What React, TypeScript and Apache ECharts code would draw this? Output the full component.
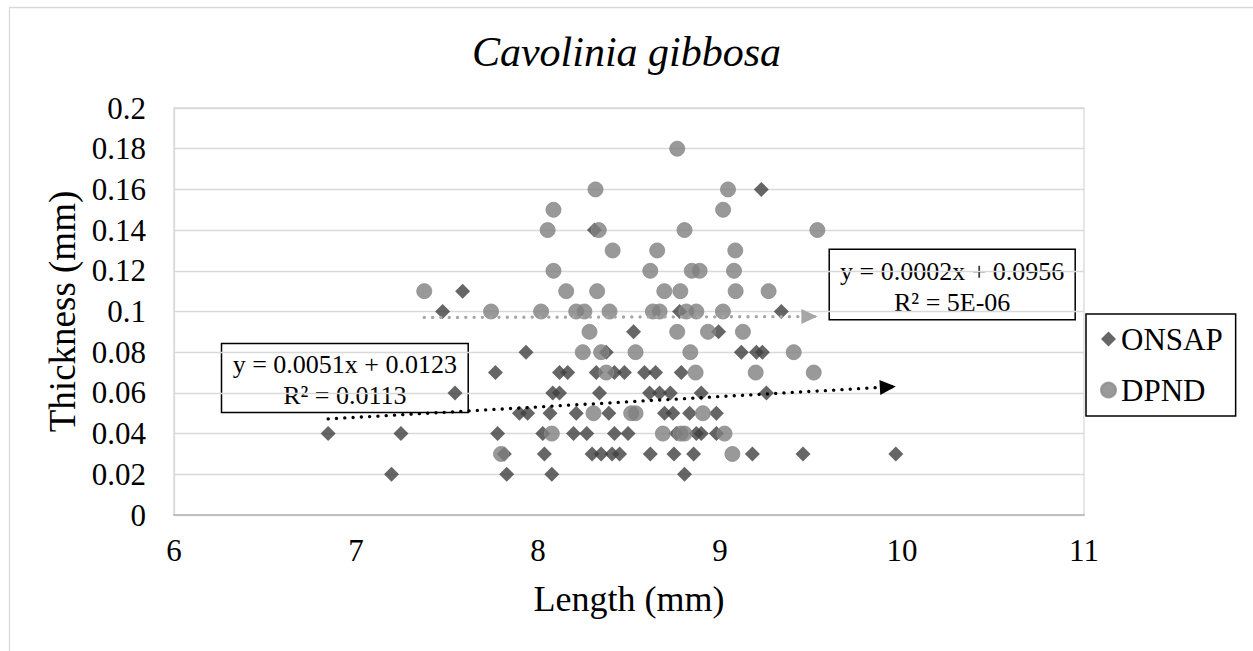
import React, { useEffect, useRef } from "react";
import * as echarts from "echarts";

const onsapLength = [
  9.227, 8.31, 7.586, 7.476, 8.778, 9.337, 8.525, 8.992,
  7.934, 8.375, 9.117, 9.2, 9.233,
  7.766, 8.118, 8.163, 8.32, 8.42, 8.475, 8.585, 8.646, 8.787,
  7.544, 8.081, 8.118, 8.338, 8.613, 8.668, 8.727, 8.897, 9.255,
  7.898, 7.943, 8.066, 8.21, 8.389, 8.695, 8.741, 8.833, 8.98,
  6.847, 7.247, 7.778, 8.026, 8.195, 8.268, 8.42, 8.495, 8.76, 8.87, 8.897, 8.98,
  7.815, 8.035, 8.297, 8.347, 8.407, 8.448, 8.617, 8.747, 8.855, 9.178, 9.456, 9.966,
  7.195, 7.828, 8.076, 8.805,
];
const onsapThickness = [
  0.16, 0.14, 0.11, 0.1, 0.1, 0.1, 0.09, 0.09,
  0.08, 0.08, 0.08, 0.08, 0.08,
  0.07, 0.07, 0.07, 0.07, 0.07, 0.07, 0.07, 0.07, 0.07,
  0.06, 0.06, 0.06, 0.06, 0.06, 0.06, 0.06, 0.06, 0.06,
  0.05, 0.05, 0.05, 0.05, 0.05, 0.05, 0.05, 0.05, 0.05,
  0.04, 0.04, 0.04, 0.04, 0.04, 0.04, 0.04, 0.04, 0.04, 0.04, 0.04, 0.04,
  0.03, 0.03, 0.03, 0.03, 0.03, 0.03, 0.03, 0.03, 0.03, 0.03, 0.03, 0.03,
  0.02, 0.02, 0.02, 0.02,
];

const dpndLength = [
  8.765,
  8.316, 9.044,
  8.085, 9.017,
  8.053, 8.334, 8.805, 9.535,
  8.41, 8.655, 9.084,
  8.085, 8.617, 8.845, 8.888, 9.077,
  7.375, 8.155, 8.325, 8.694, 8.782, 9.086, 9.267,
  7.742, 8.017, 8.21, 8.255, 8.393, 8.631, 8.668, 8.815, 8.87, 9.016,
  8.283, 8.765, 8.934, 9.126,
  8.246, 8.347, 8.536, 8.837, 9.405,
  8.375, 8.866, 9.196, 9.515,
  8.305, 8.512, 8.536, 8.906,
  8.076, 8.686, 8.783, 8.805, 9.025,
  7.797, 9.068,
];
const dpndThickness = [
  0.18,
  0.16, 0.16,
  0.15, 0.15,
  0.14, 0.14, 0.14, 0.14,
  0.13, 0.13, 0.13,
  0.12, 0.12, 0.12, 0.12, 0.12,
  0.11, 0.11, 0.11, 0.11, 0.11, 0.11, 0.11,
  0.1, 0.1, 0.1, 0.1, 0.1, 0.1, 0.1, 0.1, 0.1, 0.1,
  0.09, 0.09, 0.09, 0.09,
  0.08, 0.08, 0.08, 0.08, 0.08,
  0.07, 0.07, 0.07, 0.07,
  0.05, 0.05, 0.05, 0.05,
  0.04, 0.04, 0.04, 0.04, 0.04,
  0.03, 0.03,
];

const seriesNames = ["ONSAP", "DPND"];
const onsapTrend = { slope: 0.0051, intercept: 0.0123, label: "y = 0.0051x + 0.0123\nR² = 0.0113" };
const dpndTrend = { slope: 0.0002, intercept: 0.0956, label: "y = 0.0002x + 0.0956\nR² = 5E-06" };
const xTicks = { min: 6, max: 11, interval: 1 };
const yTicks = { min: 0, max: 0.2, interval: 0.02 };

const FONT = "Liberation Serif";
// arrow head whose tip sits at the centre of its symbol box
const ARROW = "path://M5,5L10,15L0,15ZM5,-5L5.001,-5L5,-4.999Z";

function zip(xs: number[], ys: number[]) {
  return xs.map((x, i) => [x, ys[i]]);
}

function trendSegment(xs: number[], t: { slope: number; intercept: number }) {
  const x0 = Math.min(...xs);
  const x1 = Math.max(...xs);
  return [
    [
      { coord: [x0, t.slope * x0 + t.intercept] },
      { coord: [x1, t.slope * x1 + t.intercept] },
    ],
  ];
}

export default function App() {
  const ref = useRef<HTMLDivElement>(null);
  useEffect(() => {
    if (!ref.current) return;
    const chart = echarts.init(ref.current, undefined, { renderer: "svg" });
    const option: any = {
      animation: false,
      backgroundColor: "#fff",
      textStyle: { fontFamily: FONT },
      title: {
        text: "Cavolinia gibbosa",
        left: "center",
        top: 26,
        textStyle: {
          fontFamily: FONT,
          fontStyle: "italic",
          fontWeight: "normal",
          fontSize: 42,
          color: "#000",
        },
      },
      grid: {
        left: 174,
        right: 169,
        top: 108,
        bottom: 136,
        show: true,
        borderColor: "#d9d9d9",
        borderWidth: 1.3,
      },
      legend: {
        orient: "vertical",
        left: 1086,
        top: 314,
        padding: [7, 13, 8, 14],
        itemGap: 15,
        itemWidth: 15,
        itemHeight: 15,
        borderColor: "#000",
        borderWidth: 1.5,
        textStyle: { fontFamily: FONT, fontSize: 31, color: "#000", lineHeight: 36 },
        data: seriesNames,
      },
      xAxis: {
        type: "value",
        min: xTicks.min,
        max: xTicks.max,
        interval: xTicks.interval,
        name: "Length (mm)",
        nameLocation: "middle",
        nameGap: 66,
        nameTextStyle: { fontFamily: FONT, fontSize: 36, color: "#000" },
        axisLine: { show: true, lineStyle: { color: "#bfbfbf", width: 2 } },
        axisTick: { show: false },
        splitLine: { show: false },
        axisLabel: { fontFamily: FONT, fontSize: 31, color: "#000", margin: 20 },
      },
      yAxis: {
        type: "value",
        min: yTicks.min,
        max: yTicks.max,
        interval: yTicks.interval,
        name: "Thickness (mm)",
        nameLocation: "middle",
        nameGap: 92,
        nameTextStyle: { fontFamily: FONT, fontSize: 37, color: "#000" },
        axisLine: { show: true, lineStyle: { color: "#d9d9d9", width: 1.3 } },
        axisTick: { show: false },
        splitLine: { show: true, lineStyle: { color: "#d9d9d9", width: 1.3 } },
        axisLabel: {
          fontFamily: FONT,
          fontSize: 31,
          color: "#000",
          margin: 28,
          formatter: (v: number) => String(parseFloat(v.toFixed(2))),
        },
      },
      graphic: [
        {
          type: "rect",
          left: 7,
          top: 5,
          shape: { width: 1270, height: 670 },
          style: { fill: "none", stroke: "#d9d9d9", lineWidth: 1.3 },
          silent: true,
          z: -1,
        },
        {
          type: "group",
          left: 219,
          top: 341,
          z: 1,
          children: [
            {
              type: "rect",
              shape: { x: 0, y: 0, width: 246.7, height: 69 },
              style: { fill: "none", stroke: "#000", lineWidth: 1.5 },
            },
            {
              type: "text",
              x: 123.3,
              y: 36,
              style: {
                text: onsapTrend.label,
                fontFamily: FONT,
                fontSize: 26,
                lineHeight: 31,
                fill: "#000",
                align: "center",
                verticalAlign: "middle",
              },
            },
          ],
        },
        {
          type: "group",
          left: 826.7,
          top: 246.7,
          z: 1,
          children: [
            {
              type: "rect",
              shape: { x: 0, y: 0, width: 246, height: 70.6 },
              style: { fill: "none", stroke: "#000", lineWidth: 1.5 },
            },
            {
              type: "text",
              x: 123,
              y: 37.6,
              style: {
                text: dpndTrend.label,
                fontFamily: FONT,
                fontSize: 26,
                lineHeight: 31,
                fill: "#000",
                align: "center",
                verticalAlign: "middle",
              },
            },
          ],
        },
      ],
      series: [
        {
          name: seriesNames[0],
          type: "scatter",
          symbol: "diamond",
          symbolSize: 15,
          itemStyle: { color: "#404040" },
          data: zip(onsapLength, onsapThickness),
          z: 3,
          markLine: {
            silent: true,
            symbol: ["none", ARROW],
            symbolSize: [15, 32],
            label: { show: false },
            z: 10,
            lineStyle: { color: "#000", width: 3.3, type: [0.1, 8.2], cap: "round" },
            data: trendSegment(onsapLength, onsapTrend),
          },
        },
        {
          name: seriesNames[1],
          type: "scatter",
          symbol: "circle",
          symbolSize: 15,
          itemStyle: { color: "#7f7f7f", borderColor: "#8c8c8c", borderWidth: 1 },
          data: zip(dpndLength, dpndThickness),
          z: 4,
          markLine: {
            silent: true,
            symbol: ["none", ARROW],
            symbolSize: [15, 32],
            label: { show: false },
            z: 10,
            lineStyle: { color: "#a6a6a6", width: 3.3, type: [0.1, 8.2], cap: "round" },
            data: trendSegment(dpndLength, dpndTrend),
          },
        },
      ],
    };
    chart.setOption(option);
    return () => chart.dispose();
  }, []);
  return (
    <div
      ref={ref}
      style={{ position: "fixed", left: 0, top: 0, width: 1253, height: 651 }}
    />
  );
}
